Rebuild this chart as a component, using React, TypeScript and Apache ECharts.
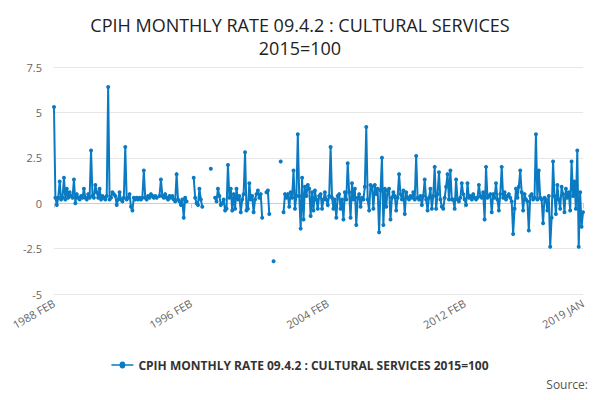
import React, { useEffect, useRef } from 'react';
import * as echarts from 'echarts';

const MONTHS = ['JAN', 'FEB', 'MAR', 'APR', 'MAY', 'JUN', 'JUL', 'AUG', 'SEP', 'OCT', 'NOV', 'DEC'];

const y1988 = [5.3, 0.3, -0.1, 0.3, 1.2, 0.2, 0.3, 1.4, 0.2, 0.8, 0.3];
const y1989 = [0.6, 0.4, 0.3, 1.3, 0.0, 0.5, 0.3, 0.2, 0.4, 0.3, 0.8, 0.3];
const y1990 = [0.2, 0.5, 0.3, 2.9, 0.4, 0.3, 1.0, 0.6, 0.3, 0.8, 0.2, 0.4];
const y1991 = [0.3, 0.2, 0.4, 6.4, 0.2, 0.3, 0.6, 0.5, 0.4, -0.1, 0.2, 0.6];
const y1992 = [0.2, 0.1, 0.3, 3.1, 0.2, 0.3, 0.5, -0.2, -0.4, 0.3, 0.2, 0.3];
const y1993 = [0.2, 0.3, 0.2, 0.3, 1.8, 0.3, 0.2, 0.4, 0.3, 0.5, 0.4, 0.3];
const y1994 = [0.4, 0.3, null, 0.4, 1.3, 0.4, 0.3, 0.5, 0.3, 0.2, 0.4, 0.3];
const y1995 = [0.4, 0.2, 0.1, 1.6, 0.2, 0.1, -0.1, 0.2, -0.8, 0.3, 0.1, null];
const y1996 = [null, null, null, 1.4, 0.3, 0.0, -0.1, 0.8, 0.2, -0.2, null, null];
const y1997 = [null, null, null, 1.9, null, null, 0.3, 0.1, 0.8, 0.4, -0.1, 0.0];
const y1998 = [0.2, -0.4, -0.3, 2.1, 0.3, 0.8, -0.4, 0.5, -0.3, 0.8, 0.2, 0.4];
const y1999 = [-0.5, 0.2, 0.5, 2.8, -0.4, -0.3, 1.1, 0.2, 0.4, -0.5, 0.2, 0.5];
const y2000 = [0.7, 0.3, 0.5, -0.8, null, null, 0.6, 0.7, -0.6, null, null, -3.2];
const y2001 = [null, null, null, null, 2.3, null, -0.5, 0.5, 0.3, 0.5, -0.2, 0.6];
const y2002 = [0.3, 1.8, -0.3, 0.4, 3.8, 0.4, -1.4, 1.4, -0.9, 0.9, 0.4, 1.0];
const y2003 = [0.8, -0.7, 0.6, -0.4, 0.7, 0.2, -0.3, 0.4, 0.5, -0.3, 0.2, 0.6];
const y2004 = [0.2, -0.1, 0.4, 3.1, 0.3, -0.3, 0.2, -0.8, 0.4, 0.5, -0.3, 0.2];
const y2005 = [-0.9, 0.6, 0.2, 2.2, 0.6, -0.8, 1.1, 0.2, 0.8, -1.2, 0.3, 0.5];
const y2006 = [-0.2, 0.3, 0.2, 0.9, 4.2, 0.2, -0.4, 1.0, 0.9, -0.3, 1.0, 0.5];
const y2007 = [0.8, -1.6, 0.7, 2.5, -1.2, 0.8, -0.2, 0.7, 0.8, -0.9, 0.3, 0.6];
const y2008 = [0.4, -0.4, 0.3, 1.6, 0.5, 0.2, 0.7, -0.6, 0.6, 0.3, 0.2, 0.4];
const y2009 = [0.3, 0.6, 0.2, 2.6, 0.3, 0.2, 0.4, -0.1, 0.4, 1.3, 0.2, -0.4];
const y2010 = [0.3, 0.8, -0.3, 0.4, 2.0, -0.3, 0.5, 1.7, 0.2, -0.2, -0.3, 0.3];
const y2011 = [0.9, 1.6, 0.2, 1.8, 0.2, 0.2, -0.3, 1.3, 0.2, 0.1, 0.3, 1.1];
const y2012 = [0.5, 0.2, -0.1, 1.1, 0.3, 0.4, 0.2, 0.5, 0.3, 0.2, 0.3, 1.0];
const y2013 = [0.4, 0.3, 0.6, -0.9, 2.0, 0.3, 0.4, 0.5, -0.5, 0.5, 0.3, 1.1];
const y2014 = [0.2, -0.4, 0.5, 2.0, 0.3, 0.6, 0.2, 0.4, 0.5, 0.3, 0.1, -1.7];
const y2015 = [-0.3, 0.8, 0.3, 0.9, 1.8, 0.6, -0.4, 0.5, 0.2, 0.1, -1.5, 0.4];
const y2016 = [0.5, 0.2, 0.3, 3.8, 0.2, 1.8, 0.3, 0.2, -1.1, 0.3, 0.2, -0.4];
const y2017 = [0.4, -2.4, -0.8, 2.3, 0.4, -0.6, 1.0, 0.2, -0.3, 0.9, 0.5, -0.5];
const y2018 = [0.8, 0.3, 0.6, -0.4, 2.3, 0.4, 1.2, -0.3, 2.9, -2.4, 0.6, -1.3];
const y2019 = [-0.5];

const yearly = [
  y1988, y1989, y1990, y1991, y1992, y1993, y1994, y1995, y1996, y1997, y1998,
  y1999, y2000, y2001, y2002, y2003, y2004, y2005, y2006, y2007, y2008, y2009,
  y2010, y2011, y2012, y2013, y2014, y2015, y2016, y2017, y2018, y2019,
];

const categories: string[] = [];
const values: (number | null)[] = [];
yearly.forEach((arr, i) => {
  const year = 1988 + i;
  const start = year === 1988 ? 1 : 0;
  arr.forEach((v, j) => {
    categories.push(`${year} ${MONTHS[start + j]}`);
    values.push(v);
  });
});

const shownLabels = ['1988 FEB', '1996 FEB', '2004 FEB', '2012 FEB', '2019 JAN'];
const seriesName = 'CPIH MONTHLY RATE 09.4.2 : CULTURAL SERVICES 2015=100';

const App: React.FC = () => {
  const chartRef = useRef<HTMLDivElement>(null);

  useEffect(() => {
    const chart = echarts.init(chartRef.current, null, { renderer: 'svg' });
    const font = 'Open Sans';
    chart.setOption({
      animation: false,
      textStyle: { fontFamily: font },
      title: {
        text: 'CPIH MONTHLY RATE 09.4.2 : CULTURAL SERVICES\n2015=100',
        left: 'center',
        top: 0,
        textStyle: { fontSize: 18, fontWeight: 'normal', color: '#222', lineHeight: 23, fontFamily: font },
      },
      grid: { left: 40, right: 9, top: 59, bottom: 98, containLabel: false },
      legend: {
        bottom: 16,
        left: 'center',
        icon: 'path://M0,4 L6,4 A2,2 0 1 1 10,4 L16,4 L16,5 L10,5 A2,2 0 1 1 6,5 L0,5 Z',
        itemWidth: 22,
        itemHeight: 8,
        textStyle: { fontSize: 12, fontWeight: 'bold', color: '#333' },
        data: [seriesName],
      },
      graphic: [
        { type: 'text', right: 4, bottom: 2, style: { text: 'Source:', fontSize: 12, fill: '#555', fontFamily: font } },
      ],
      xAxis: {
        type: 'category',
        data: categories,
        boundaryGap: false,
        axisLine: { lineStyle: { color: '#ccc' } },
        axisTick: { alignWithLabel: true, interval: (i: number, v: string) => shownLabels.includes(v), lineStyle: { color: '#ccc' } },
        axisLabel: {
          interval: (i: number, v: string) => shownLabels.includes(v),
          rotate: 30,
          color: '#666',
          fontSize: 11,
          margin: 8,
        },
      },
      yAxis: {
        type: 'value',
        min: -5,
        max: 7.5,
        interval: 2.5,
        axisLine: { show: false },
        axisTick: { show: false },
        axisLabel: { color: '#666', fontSize: 11, margin: 12, formatter: (v: number) => String(v) },
        splitLine: { lineStyle: { color: '#e6e6e6' } },
      },
      series: [
        {
          name: seriesName,
          type: 'line',
          data: values,
          connectNulls: false,
          symbol: 'circle',
          symbolSize: 4,
          showAllSymbol: true,
          itemStyle: { color: '#0a7bc2' },
          lineStyle: { width: 2, color: '#0a7bc2' },
        },
      ],
    });
    return () => chart.dispose();
  }, []);

  return <div ref={chartRef} style={{ width: 584, height: 384 }} />;
};

export default App;
